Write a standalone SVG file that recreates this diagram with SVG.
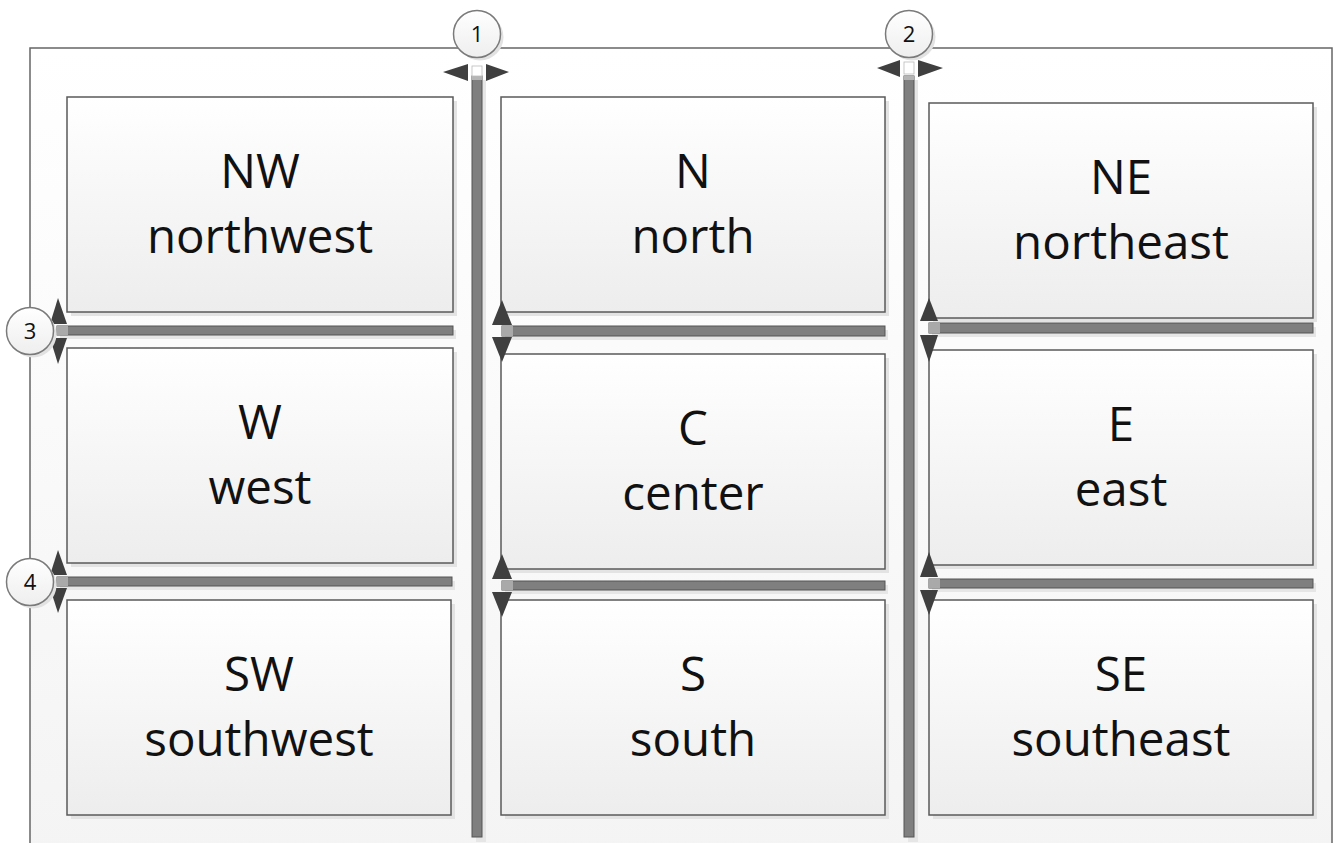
<svg xmlns="http://www.w3.org/2000/svg" width="1336" height="843" viewBox="0 0 1336 843">
<style>
.box{fill:url(#boxg);stroke:#5a5a5a;stroke-width:1.5}
.shd{fill:#e3e3e3}
.lbl{font-family:"Open Sans","Liberation Sans",sans-serif;font-size:47.5px;fill:#111;text-anchor:middle}
.bar{fill:#7f7f7f;stroke:#555;stroke-width:1}
.bshd{fill:#e6e6e6}
.head{fill:#3f3f3f}
.cir{fill:url(#cg);stroke:#7a7a7a;stroke-width:1.5}
.num{font-family:"Open Sans","Liberation Sans",sans-serif;font-size:22px;fill:#111;text-anchor:middle}
</style>
<defs>
<linearGradient id="boxg" x1="0" y1="0" x2="0" y2="1"><stop offset="0" stop-color="#ffffff"/><stop offset="1" stop-color="#ededed"/></linearGradient>
<linearGradient id="fg" x1="0" y1="0" x2="0" y2="1"><stop offset="0" stop-color="#ffffff"/><stop offset="1" stop-color="#f4f4f4"/></linearGradient>
<linearGradient id="cg" x1="0" y1="0" x2="0" y2="1"><stop offset="0" stop-color="#ffffff"/><stop offset="1" stop-color="#eeeeee"/></linearGradient>
</defs>
<rect width="1336" height="843" fill="#ffffff"/>
<rect id="frame" x="30" y="48" width="1302" height="810" fill="url(#fg)" stroke="#666" stroke-width="1.5"/>

<g id="NW"><rect class="shd" x="71" y="101" width="386" height="215"/><rect class="box" x="67" y="97" width="386" height="215"/><text class="lbl" x="260" y="188">NW</text><text class="lbl" x="260" y="253">northwest</text></g>
<g id="W"><rect class="shd" x="71" y="352" width="386" height="215"/><rect class="box" x="67" y="348" width="386" height="215"/><text class="lbl" x="260" y="439">W</text><text class="lbl" x="260" y="504">west</text></g>
<g id="SW"><rect class="shd" x="71" y="604" width="384" height="215"/><rect class="box" x="67" y="600" width="384" height="215"/><text class="lbl" x="259" y="691">SW</text><text class="lbl" x="259" y="756">southwest</text></g>
<g id="N"><rect class="shd" x="505" y="101" width="384" height="215"/><rect class="box" x="501" y="97" width="384" height="215"/><text class="lbl" x="693" y="188">N</text><text class="lbl" x="693" y="253">north</text></g>
<g id="C"><rect class="shd" x="505" y="358" width="384" height="215"/><rect class="box" x="501" y="354" width="384" height="215"/><text class="lbl" x="693" y="445">C</text><text class="lbl" x="693" y="510">center</text></g>
<g id="S"><rect class="shd" x="505" y="604" width="384" height="215"/><rect class="box" x="501" y="600" width="384" height="215"/><text class="lbl" x="693" y="691">S</text><text class="lbl" x="693" y="756">south</text></g>
<g id="NE"><rect class="shd" x="933" y="107" width="384" height="215"/><rect class="box" x="929" y="103" width="384" height="215"/><text class="lbl" x="1121" y="194">NE</text><text class="lbl" x="1121" y="259">northeast</text></g>
<g id="E"><rect class="shd" x="933" y="354" width="384" height="215"/><rect class="box" x="929" y="350" width="384" height="215"/><text class="lbl" x="1121" y="441">E</text><text class="lbl" x="1121" y="506">east</text></g>
<g id="SE"><rect class="shd" x="933" y="604" width="384" height="215"/><rect class="box" x="929" y="600" width="384" height="215"/><text class="lbl" x="1121" y="691">SE</text><text class="lbl" x="1121" y="756">southeast</text></g>

<g id="connectors">
<rect class="bshd" x="476" y="80" width="10" height="762"/>
<rect class="bar" x="472" y="76" width="10" height="761"/>
<rect x="472" y="76" width="10" height="4" fill="#b5b5b5"/>
<rect x="472" y="66" width="10" height="10" fill="#fff" stroke="#bbb" stroke-width="0.8"/>
<polygon class="head" points="443,72 468,64 468,81"/>
<polygon class="head" points="509,72 486,64 486,81"/>
<rect class="bshd" x="908" y="80" width="10" height="762"/>
<rect class="bar" x="904" y="76" width="10" height="761"/>
<rect x="904" y="76" width="10" height="4" fill="#b5b5b5"/>
<rect x="904" y="62" width="10" height="12" fill="#fff" stroke="#bbb" stroke-width="0.8"/>
<polygon class="head" points="877,68 900,60 900,77"/>
<polygon class="head" points="943,68 918,60 918,77"/>

<rect class="bshd" x="60" y="330" width="396" height="9"/>
<rect class="bar" x="57" y="326" width="396" height="9"/>
<rect x="57" y="326" width="11" height="9" fill="#a9a9a9"/>
<polygon class="head" points="58,298 50,324 67,324"/>
<polygon class="head" points="58,364 50,338 67,338"/>

<rect class="bshd" x="505" y="330" width="383" height="10"/>
<rect class="bar" x="502" y="326" width="383" height="10"/>
<rect x="502" y="326" width="11" height="10" fill="#a9a9a9"/>
<polygon class="head" points="502,300 492,325 512,325"/>
<polygon class="head" points="502,362 492,337 512,337"/>

<rect class="bshd" x="932" y="327" width="384" height="10"/>
<rect class="bar" x="929" y="323" width="384" height="10"/>
<rect x="929" y="323" width="11" height="10" fill="#a9a9a9"/>
<polygon class="head" points="929,298 920,321 938,321"/>
<polygon class="head" points="929,362 920,335 938,335"/>

<rect class="bshd" x="60" y="581" width="395" height="9"/>
<rect class="bar" x="57" y="577" width="395" height="9"/>
<rect x="57" y="577" width="11" height="9" fill="#a9a9a9"/>
<polygon class="head" points="58,550 50,575 67,575"/>
<polygon class="head" points="58,613 50,588 67,588"/>

<rect class="bshd" x="505" y="585" width="383" height="9"/>
<rect class="bar" x="502" y="581" width="383" height="9"/>
<rect x="502" y="581" width="11" height="9" fill="#a9a9a9"/>
<polygon class="head" points="502,554 492,579 512,579"/>
<polygon class="head" points="502,617 492,592 512,592"/>

<rect class="bshd" x="932" y="583" width="384" height="9"/>
<rect class="bar" x="929" y="579" width="384" height="9"/>
<rect x="929" y="579" width="11" height="9" fill="#a9a9a9"/>
<polygon class="head" points="929,552 920,577 938,577"/>
<polygon class="head" points="929,615 920,590 938,590"/>
</g>

<g id="c1"><circle cx="480" cy="37" r="23.5" fill="#e2e2e2"/><circle class="cir" cx="477" cy="34" r="23.5"/><text class="num" x="477" y="42">1</text></g>
<g id="c2"><circle cx="912" cy="37" r="23.5" fill="#e2e2e2"/><circle class="cir" cx="909" cy="34" r="23.5"/><text class="num" x="909" y="42">2</text></g>
<g id="c3"><circle cx="33" cy="334" r="23.5" fill="#e2e2e2"/><circle class="cir" cx="30" cy="331" r="23.5"/><text class="num" x="30" y="339">3</text></g>
<g id="c4"><circle cx="33" cy="585" r="23.5" fill="#e2e2e2"/><circle class="cir" cx="30" cy="582" r="23.5"/><text class="num" x="30" y="590">4</text></g>
</svg>
